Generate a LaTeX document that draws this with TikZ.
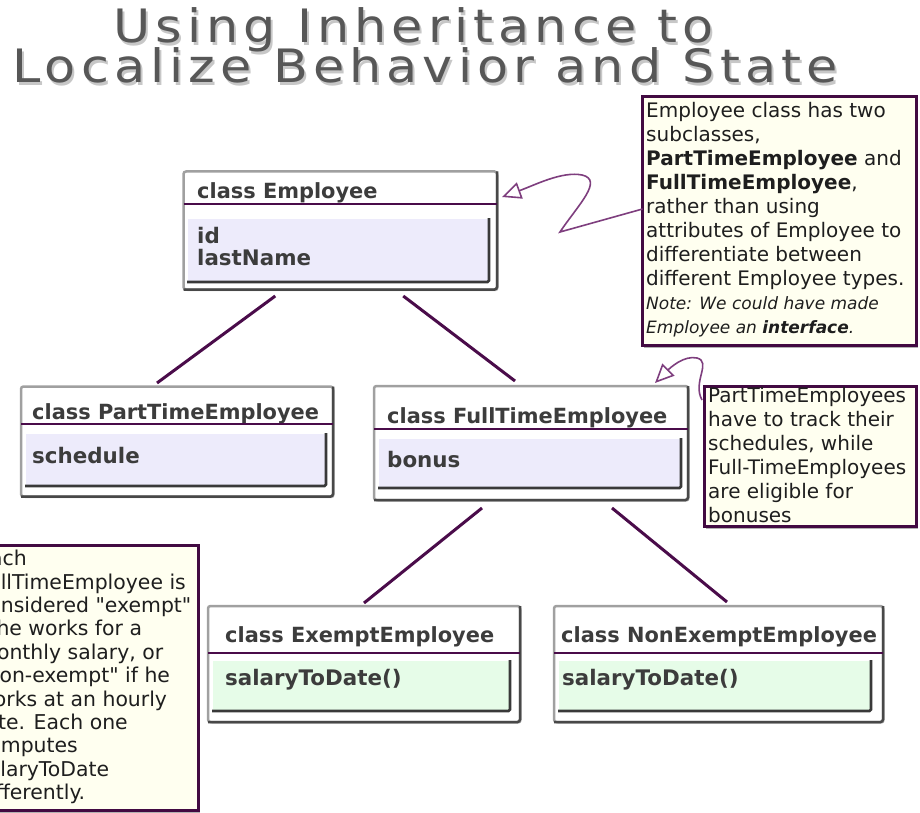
\documentclass[tikz,border=0pt]{standalone}
\usepackage{fontspec}
\setmainfont{DejaVu Sans}
\newfontfamily\titlefont[LetterSpace=10]{DejaVu Sans}
\newfontfamily\notefont{DejaVu Sans}
\usetikzlibrary{shadows,calc,arrows.meta}
\definecolor{hdrPurple}{HTML}{4A0C4A}
\definecolor{notePurple}{HTML}{420A42}
\definecolor{arrowPurple}{HTML}{7E3E7E}
\definecolor{noteFill}{HTML}{FFFFF0}
\definecolor{lav}{HTML}{EDEBFB}
\definecolor{mint}{HTML}{E6FCE8}
\definecolor{clsText}{HTML}{3C3C3C}
\definecolor{noteText}{HTML}{1E1E1E}
\definecolor{titleGrey}{HTML}{575757}
\definecolor{clsLight}{HTML}{A0A0A0}
\definecolor{clsDark}{HTML}{484848}
\begin{document}
\begin{tikzpicture}[x=1pt,y=-1pt,
  clsbox/.style={draw=clsLight, line width=2.5pt, rounded corners=2.5pt, fill=white, inner sep=0pt, outer sep=0pt,
     drop shadow={shadow xshift=1.5pt, shadow yshift=-1.5pt, fill=black, opacity=0.25}},
  clsedge/.style={draw=clsDark, line width=2.5pt, rounded corners=2.5pt},
  hdr/.style={draw=hdrPurple, line width=2.2pt},
  attrbox/.style={inner sep=0pt, outer sep=0pt, draw=white, line width=0.8pt},
  attrshade/.style={draw=gray!45!black, line width=2.6pt, rounded corners=1.5pt},
  clsname/.style={font=\fontsize{20.9}{24}\selectfont\bfseries, text=clsText, inner sep=0pt, anchor=base west},
  attrtxt/.style={font=\fontsize{21.4}{22}\selectfont\bfseries, text=clsText, inner sep=0pt, anchor=base west, align=left},
  note/.style={draw=notePurple, line width=3pt, fill=noteFill, inner sep=0pt, outer sep=0pt,
     drop shadow={shadow xshift=1.5pt, shadow yshift=-2pt, fill=black, opacity=0.3}},
  notetxt/.style={font=\notefont\fontsize{20}{24}\selectfont, text=noteText, inner sep=0pt, anchor=north west, align=left},
  inh/.style={draw=hdrPurple, line width=3pt},
  callout/.style={draw=arrowPurple, line width=1.6pt, -{Triangle[fill=white, length=19pt, width=17pt]}},
  titletxt/.style={font=\titlefont\fontsize{46}{50}\selectfont, text=titleGrey, inner sep=0pt, anchor=base},
  titleshadow/.style={font=\titlefont\fontsize{46}{50}\selectfont, text=black!22, inner sep=0pt, anchor=base}
]
\useasboundingbox (0,0) rectangle (920,813);
\clip (0,0) rectangle (920,813);
\fill[white] (0,0) rectangle (920,813);

% title (soft shadow copy, then the text)
\node[titleshadow] (t1s) at (415.5,45.5) {\scalebox{1.105}[1]{Using Inheritance to}};
\node[titleshadow] (t2s) at (427,85.5) {\scalebox{1.105}[1]{Localize Behavior and State}};
\node[titletxt] (t1) at (413.5,43) {\scalebox{1.105}[1]{Using Inheritance to}};
\node[titletxt] (t2) at (425,83) {\scalebox{1.105}[1]{Localize Behavior and State}};

% ---- class Employee
\node[clsbox, minimum width=313.5pt, minimum height=118pt, anchor=north west] (emp) at (183.5,171.5) {};
\draw[clsedge] (emp.north east) -- (emp.south east) -- (emp.south west);
\node[clsname] (empT) at (197,198) {class Employee};
\draw[hdr] (183.5,204) -- (497,204);
\node[attrbox, fill=lav, minimum width=302pt, minimum height=64pt, anchor=north west] (empA) at (187,218) {};
\draw[attrshade] (empA.north east) -- (empA.south east) -- (empA.south west);
\node[attrtxt] (empAt) at (197,265) {id\\lastName};

% ---- class PartTimeEmployee
\node[clsbox, minimum width=312pt, minimum height=110pt, anchor=north west] (pte) at (21,386.5) {};
\draw[clsedge] (pte.north east) -- (pte.south east) -- (pte.south west);
\node[clsname] (pteT) at (32,419) {class PartTimeEmployee};
\draw[hdr] (21,424) -- (333,424);
\node[attrbox, fill=lav, minimum width=301pt, minimum height=53pt, anchor=north west] (pteA) at (25,433) {};
\draw[attrshade] (pteA.north east) -- (pteA.south east) -- (pteA.south west);
\node[attrtxt] (pteAt) at (32,463) {schedule};

% ---- class FullTimeEmployee
\node[clsbox, minimum width=314pt, minimum height=114pt, anchor=north west] (fte) at (374,386) {};
\draw[clsedge] (fte.north east) -- (fte.south east) -- (fte.south west);
\node[clsname] (fteT) at (387,423) {class FullTimeEmployee};
\draw[hdr] (374,429) -- (688,429);
\node[attrbox, fill=lav, minimum width=303pt, minimum height=50pt, anchor=north west] (fteA) at (378,438) {};
\draw[attrshade] (fteA.north east) -- (fteA.south east) -- (fteA.south west);
\node[attrtxt] (fteAt) at (387,467) {bonus};

% ---- class ExemptEmployee
\node[clsbox, minimum width=312pt, minimum height=116pt, anchor=north west] (exe) at (208,606) {};
\draw[clsedge] (exe.north east) -- (exe.south east) -- (exe.south west);
\node[clsname] (exeT) at (225,642) {class ExemptEmployee};
\draw[hdr] (208,653) -- (520,653);
\node[attrbox, fill=mint, minimum width=298pt, minimum height=51pt, anchor=north west] (exeA) at (212,660) {};
\draw[attrshade] (exeA.north east) -- (exeA.south east) -- (exeA.south west);
\node[attrtxt] (exeAt) at (225,685) {salaryToDate()};

% ---- class NonExemptEmployee
\node[clsbox, minimum width=329pt, minimum height=116pt, anchor=north west] (nex) at (554,606) {};
\draw[clsedge] (nex.north east) -- (nex.south east) -- (nex.south west);
\node[clsname] (nexT) at (561,642) {class NonExemptEmployee};
\draw[hdr] (554,653) -- (883,653);
\node[attrbox, fill=mint, minimum width=313pt, minimum height=51pt, anchor=north west] (nexA) at (558,660) {};
\draw[attrshade] (nexA.north east) -- (nexA.south east) -- (nexA.south west);
\node[attrtxt] (nexAt) at (562,685) {salaryToDate()};

% ---- inheritance lines
\draw[inh] ($(emp.south)+(-65,6.5)$) -- ($(pte.north)+(-20,-3.5)$);
\draw[inh] ($(emp.south)+(63,6.5)$) -- ($(fte.north)+(-16,-5)$);
\draw[inh] ($(fte.south)+(-49,8)$) -- ($(exe.north)+(0,-3)$);
\draw[inh] ($(fte.south)+(81,8)$) -- ($(nex.north)+(8.5,-4)$);

% ---- notes
\node[note, minimum width=274pt, minimum height=249pt, anchor=north west] (n1) at (642.5,96.5) {};
\node[notetxt] (n1t) at (646,102) {Employee class has two\\
subclasses,\\
\textbf{PartTimeEmployee} and\\
\textbf{FullTimeEmployee},\\
rather than using\\
attributes of Employee to\\
differentiate between\\
different Employee types.\\
{\fontsize{17}{24}\selectfont\itshape Note: We could have made}\\
{\fontsize{17}{24}\selectfont\itshape Employee an \textbf{interface}.}};

\node[note, minimum width=212pt, minimum height=140pt, anchor=north west] (n2) at (704.5,386.5) {};
\node[notetxt] (n2t) at (708,387) {PartTimeEmployees\\
have to track their\\
schedules, while\\
Full-TimeEmployees\\
are eligible for\\
bonuses};

\node[note, minimum width=230pt, minimum height=265pt, anchor=north west] (n3) at (-32,545.5) {};
\node[notetxt, font=\notefont\fontsize{20.4}{23.4}\selectfont] (n3t) at (-23,550) {Each\\
FullTimeEmployee is\\
considered "exempt"\\
if he works for a\\
monthly salary, or\\
"non-exempt" if he\\
works at an hourly\\
rate. Each one\\
computes\\
salaryToDate\\
differently.};

% ---- callout arrows
\draw[callout] ($(n1.west)+(0,-12)$) -- (560,232) .. controls (578,205) and (604,180) .. (582,175) .. controls (562,171) and (535,185) .. ($(emp.east)+(5,-33.5)$);
\draw[callout] ($(n2.north west)+(-2.5,13.5)$) .. controls (692,382) and (712,362) .. (697,358) .. controls (684,355) and (670,368) .. ($(fte.north east)+(-33,-3)$);
\end{tikzpicture}
\end{document}
